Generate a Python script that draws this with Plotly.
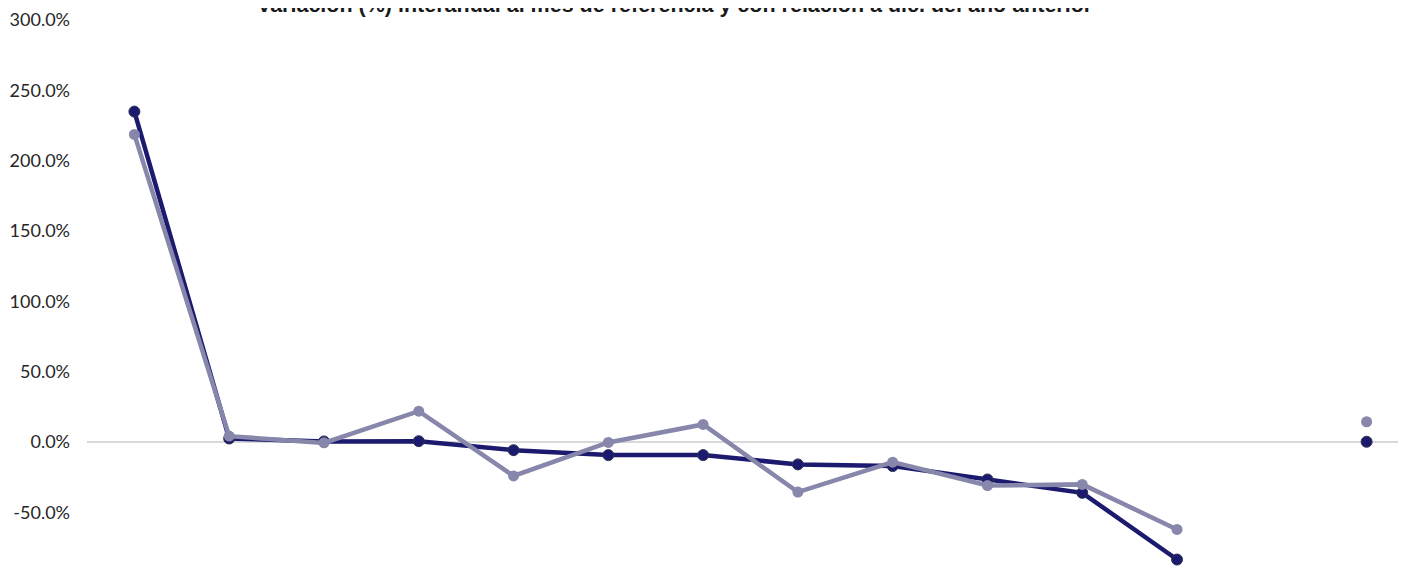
import plotly.graph_objects as go

categories = ["C1", "C2", "C3", "C4", "C5", "C6", "C7", "C8", "C9", "C10", "C11", "C12", "C13", "C14"]
interanual = [234.9, 2.6, 0.5, 0.7, -5.7, -9.2, -9.2, -15.8, -17.0, -26.5, -36.0, -83.4, None, 0.3]
vs_dic = [218.7, 4.3, -0.5, 22.0, -24.0, -0.2, 12.6, -35.5, -14.2, -30.8, -30.0, -62.0, None, 14.5]
y_ticks = [-100, -50, 0, 50, 100, 150, 200, 250, 300]
y_tick_text = ["-100.0%", "-50.0%", "0.0%", "50.0%", "100.0%", "150.0%", "200.0%", "250.0%", "300.0%"]
title_text = "Variación (%) interanual al mes de referencia y con relación a dic. del año anterior"

fig = go.Figure()
fig.add_trace(go.Scatter(
    x=categories, y=interanual, mode="lines+markers", name="Interanual",
    line=dict(color="#1c1a6e", width=4.5),
    marker=dict(color="#1c1a6e", size=11, line=dict(color="#2e3350", width=1)),
    connectgaps=False,
))
fig.add_trace(go.Scatter(
    x=categories, y=vs_dic, mode="lines+markers", name="Con relación a dic. del año anterior",
    line=dict(color="#8786ab", width=4.5),
    marker=dict(color="#8786ab", size=11),
    connectgaps=False,
))

fig.add_annotation(
    text="<b>" + title_text + "</b>", xref="paper", yref="paper",
    x=0.443, y=1, xanchor="center", yanchor="middle", yshift=15, showarrow=False,
    font=dict(family="Liberation Sans Narrow, Arial Narrow, Liberation Sans, sans-serif", size=21.5, color="#1a1a1a"),
)

fig.update_layout(
    width=1406, height=577,
    margin=dict(l=79, r=0, t=12, b=0),
    paper_bgcolor="white", plot_bgcolor="white",
    showlegend=False,
    font=dict(family="Lato, Open Sans, sans-serif", size=18, color="#262626"),
)
fig.update_xaxes(type="category", range=[-0.5, 13.5], showticklabels=False,
                 showgrid=False, zeroline=False, showline=False, ticks="")
fig.update_yaxes(range=[-101.5, 300], tickvals=y_ticks, ticktext=y_tick_text,
                 showgrid=False, zeroline=True, zerolinecolor="#d9d9d9", zerolinewidth=2,
                 showline=False, ticks="", ticklabelstandoff=16)

fig.write_html("out.html")
